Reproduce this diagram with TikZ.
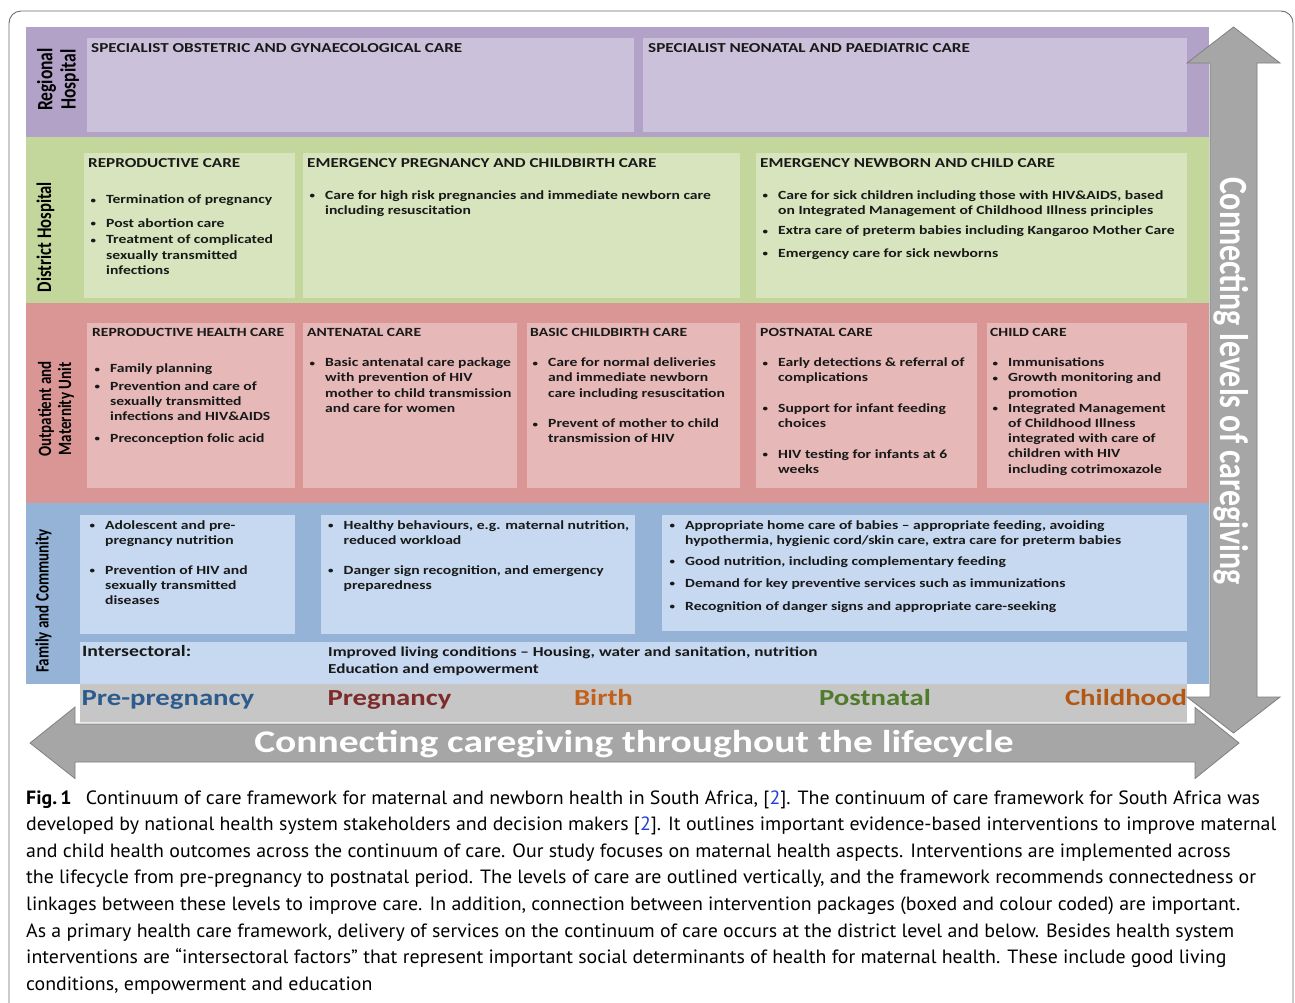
\documentclass[tikz,border=0pt]{standalone}
\usepackage{graphicx}
\usepackage{fontspec}
\setmainfont{Carlito}
\newfontfamily\widefont[FakeStretch=1.25]{Carlito}
\newfontfamily\captionfont[FakeStretch=1.035]{PT Sans}
\definecolor{rhband}{HTML}{B3A2C7}
\definecolor{rhbox}{HTML}{CCC1DA}
\definecolor{dhband}{HTML}{C3D69B}
\definecolor{dhbox}{HTML}{D7E4BD}
\definecolor{oumband}{HTML}{D99694}
\definecolor{oumbox}{HTML}{E6B9B8}
\definecolor{fcband}{HTML}{95B3D7}
\definecolor{fcbox}{HTML}{C6D9F1}
\definecolor{lifeband}{HTML}{C6C6C6}
\definecolor{arrowfill}{HTML}{A6A6A6}
\definecolor{arrowline}{HTML}{808080}
\definecolor{preblue}{HTML}{2D5B8E}
\definecolor{pregred}{HTML}{7D2B2B}
\definecolor{birthorange}{HTML}{C2601C}
\definecolor{postgreen}{HTML}{4F7B2A}
\definecolor{childbrown}{HTML}{B35814}
\definecolor{refblue}{HTML}{2440D8}
\definecolor{framegray}{HTML}{6E6E6E}
\newcommand{\bl}{\makebox[18pt][l]{\hspace{2.5pt}\raisebox{0.6pt}{\scalebox{0.7}{\textbullet}}}}
\newcommand{\cl}{\hspace*{18pt}}
\newcommand{\hd}[1]{{\fontsize{13.7}{15.2}\selectfont #1}}

\begin{document}
\begin{tikzpicture}[x=1pt,y=-1pt,
  boxtxt/.style={anchor=north west, inner sep=0pt, align=left, text=black!90,
    font=\widefont\bfseries\fontsize{12.5}{15.2}\selectfont},
  sidelbl/.style={rotate=90, yscale=1.25, inner sep=0pt, align=center},
  stagelbl/.style={anchor=base, inner sep=0pt,
    font=\widefont\bfseries\fontsize{23}{26}\selectfont},
  bigarrow/.style={fill=arrowfill, draw=arrowline, line width=0.8pt, line join=miter}]
  \useasboundingbox (0,0) rectangle (1295,1002);
  \fill[white] (0,0) rectangle (1295,1002);
  \draw[framegray, line width=0.9pt, rounded corners=12pt]
    (9,1012) -- (9,11) -- (1293,11) -- (1293,1012);

  % levels of care
  \fill[rhband] (26,27) rectangle (1209,137);
  \fill[dhband] (26,137) rectangle (1209,303);
  \fill[oumband] (26,303) rectangle (1209,503);
  \fill[fcband] (26,503) rectangle (1209,683.5);

  % intervention packages
  \fill[rhbox] (87,38) rectangle (634,132);
  \fill[rhbox] (643,38) rectangle (1187,132);
  \foreach \xa/\xb in {84/295, 303/740, 756/1187}
    \fill[dhbox] (\xa,153) rectangle (\xb,298);
  \foreach \xa/\xb in {87/295, 303/517, 527/740, 756/977, 987/1187}
    \fill[oumbox] (\xa,323) rectangle (\xb,488);
  \fill[fcbox] (80,515) rectangle (295,634);
  \fill[fcbox] (321,515) rectangle (635,634);
  \fill[fcbox] (662,515) rectangle (1187,631);
  \fill[fcbox] (80,642) rectangle (1187,683.5);
  \fill[lifeband] (80,683.5) rectangle (1187,723);

  % regional hospital
  \node[boxtxt] (rhobs) at (91,43.2) {\hd{SPECIALIST OBSTETRIC AND GYNAECOLOGICAL CARE}};
  \node[boxtxt] (rhneo) at (648,43.2) {\hd{SPECIALIST NEONATAL AND PAEDIATRIC CARE}};

  % district hospital
  \node[boxtxt] (dhrep) at (88,158.7) {\hd{REPRODUCTIVE CARE}\\[20.8pt]
    \bl Termination of pregnancy\\[8.2pt]
    \bl Post abortion care\\[1.4pt]
    \bl Treatment of complicated\\
    \cl sexually transmitted\\
    \cl infections};
  \node[boxtxt] (dhemp) at (307,158.7) {\hd{EMERGENCY PREGNANCY AND CHILDBIRTH CARE}\\[16.5pt]
    \bl Care for high risk pregnancies and immediate newborn care\\
    \cl including resuscitation};
  \node[boxtxt] (dhenc) at (760,158.7) {\hd{EMERGENCY NEWBORN AND CHILD CARE}\\[16.5pt]
    \bl Care for sick children including those with HIV\&AIDS, based\\
    \cl on Integrated Management of Childhood Illness principles\\[4.8pt]
    \bl Extra care of preterm babies including Kangaroo Mother Care\\[7.5pt]
    \bl Emergency care for sick newborns};

  % outpatient and maternity unit
  \node[boxtxt] (ourhc) at (92,328.3) {REPRODUCTIVE HEALTH CARE\\[20.8pt]
    \bl Family planning\\[2.5pt]
    \bl Prevention and care of\\
    \cl sexually transmitted\\
    \cl infections and HIV\&AIDS\\[6.5pt]
    \bl Preconception folic acid};
  \node[boxtxt] (ouanc) at (307,328.3) {ANTENATAL CARE\\[14.8pt]
    \bl Basic antenatal care package\\
    \cl with prevention of HIV\\
    \cl mother to child transmission\\
    \cl and care for women};
  \node[boxtxt] (oubcc) at (530,328.3) {BASIC CHILDBIRTH CARE\\[14.8pt]
    \bl Care for normal deliveries\\
    \cl and immediate newborn\\
    \cl care including resuscitation\\[15.4pt]
    \bl Prevent of mother to child\\
    \cl transmission of HIV};
  \node[boxtxt] (oupnc) at (760,328.3) {POSTNATAL CARE\\[14.8pt]
    \bl Early detections \& referral of\\
    \cl complications\\[15.4pt]
    \bl Support for infant feeding\\
    \cl choices\\[15.4pt]
    \bl HIV testing for infants at 6\\
    \cl weeks};
  \node[boxtxt] (ouchc) at (990,328.3) {CHILD CARE\\[14.8pt]
    \bl Immunisations\\
    \bl Growth monitoring and\\
    \cl promotion\\
    \bl Integrated Management\\
    \cl of Childhood Illness\\
    \cl integrated with care of\\
    \cl children with HIV\\
    \cl including cotrimoxazole};

  % family and community
  \node[boxtxt] (fcpre) at (87,520.3) {\bl Adolescent and pre-\\
    \cl pregnancy nutrition\\[14.8pt]
    \bl Prevention of HIV and\\
    \cl sexually transmitted\\
    \cl diseases};
  \node[boxtxt] (fcpreg) at (325.5,520.3) {\bl Healthy behaviours, e.g. maternal nutrition,\\
    \cl reduced workload\\[14.8pt]
    \bl Danger sign recognition, and emergency\\
    \cl preparedness};
  \node[boxtxt] (fcpost) at (667,520.3) {\bl Appropriate home care of babies – appropriate feeding, avoiding\\
    \cl hypothermia, hygienic cord/skin care, extra care for preterm babies\\[5.5pt]
    \bl Good nutrition, including complementary feeding\\[6.8pt]
    \bl Demand for key preventive services such as immunizations\\[8pt]
    \bl Recognition of danger signs and appropriate care-seeking};
  \node[anchor=north west, inner sep=0pt, text=black!90,
        font=\widefont\bfseries\fontsize{15.8}{18}\selectfont] (isect) at (82,645.2) {Intersectoral:};
  \node[boxtxt, font=\widefont\bfseries\fontsize{13.7}{16.6}\selectfont] (isectxt) at (328,646.8)
    {Improved living conditions – Housing, water and sanitation, nutrition\\
     Education and empowerment};

  % level labels
  \node[sidelbl, font=\bfseries\fontsize{17.5}{18.5}\selectfont] (lvrh) at (58,79.5) {Regional\\Hospital};
  \node[sidelbl, font=\bfseries\fontsize{16.6}{19}\selectfont] (lvdh) at (45.5,237) {District Hospital};
  \node[sidelbl, font=\bfseries\fontsize{15}{16}\selectfont] (lvom) at (56,409) {Outpatient and\\Maternity Unit};
  \node[sidelbl, font=\bfseries\fontsize{15}{16}\selectfont] (lvfc) at (43.5,601) {Family and Community};

  % lifecycle stages
  \node[stagelbl, text=preblue] (sgpre) at (168,705.5) {Pre-pregnancy};
  \node[stagelbl, text=pregred] (sgpreg) at (389.5,705.5) {Pregnancy};
  \node[stagelbl, text=birthorange] (sgbirth) at (603.5,705.5) {Birth};
  \node[stagelbl, text=postgreen] (sgpost) at (875,705.5) {Postnatal};
  \node[stagelbl, text=childbrown] (sgchild) at (1126,705.5) {Childhood};

  % connecting arrows
  \draw[bigarrow] (1210,697) -- (1210,63) -- (1187,63) -- (1233.5,27) -- (1280,63)
    -- (1257,63) -- (1257,697) -- (1280,697) -- (1233.5,733) -- (1187,697) -- cycle;
  \node[rotate=-90, yscale=1.25, inner sep=0pt, text=white,
        font=\bfseries\fontsize{32}{36}\selectfont] (levels) at (1231,381) {Connecting levels of caregiving};
  \draw[bigarrow, preaction={draw=white, line width=3.5pt}]
    (75,724) -- (75,707) -- (30,743) -- (75,778.5) -- (75,762) -- (1195,762)
    -- (1195,778.5) -- (1239,743) -- (1195,707.5) -- (1195,724) -- cycle;
  \node[anchor=base, inner sep=0pt, text=white,
        font=\widefont\bfseries\fontsize{31.6}{34}\selectfont] (lifecycle) at (634,752)
    {Connecting caregiving throughout the lifecycle};

  % caption
  \node[anchor=north west, inner sep=0pt, align=left,
        font=\captionfont\fontsize{19.2}{26.6}\selectfont] (caption) at (26,790.3)
    {\textbf{Fig.\,1}\hspace{9pt} Continuum of care framework for maternal and newborn health in South Africa, [{\color{refblue}2}]. The continuum of care framework for South Africa was\\
     developed by national health system stakeholders and decision makers [{\color{refblue}2}]. It outlines important evidence-based interventions to improve maternal\\
     and child health outcomes across the continuum of care. Our study focuses on maternal health aspects. Interventions are implemented across\\
     the lifecycle from pre-pregnancy to postnatal period. The levels of care are outlined vertically, and the framework recommends connectedness or\\
     linkages between these levels to improve care. In addition, connection between intervention packages (boxed and colour coded) are important.\\
     As a primary health care framework, delivery of services on the continuum of care occurs at the district level and below. Besides health system\\
     interventions are “intersectoral factors” that represent important social determinants of health for maternal health. These include good living\\
     conditions, empowerment and education};
\end{tikzpicture}
\end{document}
